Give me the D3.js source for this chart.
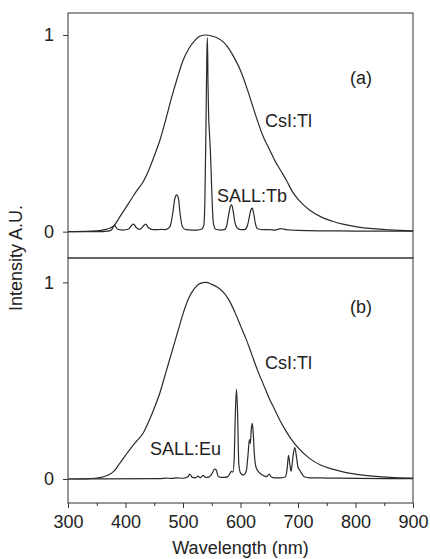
<!DOCTYPE html>
<html>
<head>
<meta charset="utf-8">
<script src="https://cdn.jsdelivr.net/npm/d3@7"></script>
<style>
  body { margin: 0; background: #fff; }
  .graph { fill: none; stroke: #2a2a2a; stroke-width: 1.2px; }
  text { font-family: "Liberation Sans", Arial, sans-serif; fill: #222; }
</style>
</head>
<body>
<div class="container"></div>
<script>
// CsI:Tl emission, panel (a)
var csiNmA  = [300,330,350,360,370,380,390,400,410,420,430,440,450,460,470,480,490,500,510,520,530,540,550,560,570,580,590,600,610,620,630,640,650,660,670,680,690,700,710,720,740,760,780,800,830,860,900];
var csiValA = [0,0.001,0.004,0.008,0.015,0.03,0.075,0.12,0.165,0.21,0.25,0.31,0.385,0.466,0.57,0.68,0.78,0.87,0.93,0.97,0.995,1.0,0.995,0.985,0.965,0.93,0.88,0.82,0.74,0.65,0.56,0.48,0.42,0.36,0.31,0.26,0.205,0.165,0.135,0.11,0.075,0.053,0.037,0.026,0.015,0.009,0.004];

// CsI:Tl emission, panel (b)
var csiNmB  = [300,330,350,360,370,380,390,400,410,420,430,440,450,460,470,480,490,500,510,520,530,540,550,560,570,580,590,600,610,620,630,640,650,660,670,680,690,700,720,740,760,780,800,830,860,900];
var csiValB = [0,0.001,0.005,0.01,0.02,0.04,0.08,0.12,0.16,0.195,0.23,0.29,0.36,0.44,0.54,0.64,0.74,0.84,0.92,0.97,0.995,1.0,0.99,0.975,0.95,0.91,0.85,0.78,0.71,0.63,0.55,0.48,0.41,0.35,0.29,0.24,0.195,0.16,0.105,0.07,0.05,0.035,0.025,0.015,0.008,0.004];

// SALL:Tb emission
var tbNm  = [300,350,370,376,381,386,395,405,410,414,419,425,430,435,440,447,455,462,468,474,478,482,486,489,492,495,499,505,515,525,532,536,538,540,541.5,542.5,543.5,544.5,546,547.5,549,551,553,557,565,572,576,579,582,584,586,588,590,594,600,607,612,615,618,620.5,623,626,630,640,650,660,665,670,675,680,690,700,750,800,900];
var tbVal = [0,0,0.003,0.01,0.032,0.012,0.008,0.012,0.03,0.038,0.02,0.012,0.025,0.038,0.02,0.01,0.01,0.012,0.01,0.016,0.03,0.09,0.17,0.187,0.17,0.09,0.025,0.01,0.008,0.008,0.012,0.03,0.15,0.55,0.9,0.985,0.75,0.6,0.5,0.42,0.3,0.13,0.04,0.012,0.008,0.01,0.03,0.08,0.125,0.138,0.125,0.09,0.05,0.02,0.01,0.01,0.03,0.07,0.11,0.12,0.09,0.04,0.015,0.01,0.01,0.008,0.012,0.015,0.013,0.01,0.008,0.006,0.004,0.003,0.002];

// SALL:Eu emission
var euNm  = [300,460,470,480,490,500,508,512,516,522,526,530,535,539,545,550,555,558,561,566,572,578,582,584.5,587,589,591,593,595,597,600,605,610,613,615.5,617,619,620.5,622,624,627,632,638,645,650,653,660,670,678,681,683.5,686,688,690,692,694.5,697,700,703,707,712,720,750,800,900];
var euVal = [0,0.002,0.005,0.003,0.006,0.004,0.01,0.025,0.008,0.006,0.015,0.006,0.018,0.008,0.01,0.025,0.05,0.045,0.015,0.008,0.008,0.012,0.03,0.04,0.035,0.1,0.33,0.456,0.33,0.08,0.03,0.02,0.04,0.12,0.2,0.18,0.26,0.283,0.24,0.13,0.06,0.035,0.02,0.012,0.025,0.012,0.006,0.006,0.01,0.05,0.12,0.07,0.04,0.08,0.13,0.16,0.12,0.06,0.045,0.025,0.01,0.006,0.005,0.003,0.002];

var xTicks = [300,400,500,600,700,800,900];
var xMinor = [350,450,550,650,750,850];
var yTicks = [0,1];

const WIDTH = 430;
const HEIGHT = 559;
const LEFT = 68, RIGHT = 413;

var svg = d3.select('.container').append('svg')
  .attr('width', WIDTH)
  .attr('height', HEIGHT);

var xScale = d3.scaleLinear().domain([300, 900]).range([LEFT, RIGHT]);
var yA = d3.scaleLinear().domain([-0.134, 1.112]).range([258, 13]);
var yB = d3.scaleLinear().domain([-0.122, 1.124]).range([503, 258]);

var zip = function(xs, ys) {
  return xs.map(function(x, i) { return [x, ys[i]]; });
};

var drawPanel = function(yScale, series) {
  var line = d3.line()
    .x(function(d) { return xScale(d[0]); })
    .y(function(d) { return yScale(d[1]); })
    .curve(d3.curveMonotoneX);

  series.forEach(function(s) {
    svg.append('path')
      .datum(s)
      .classed('graph', true)
      .attr('d', line);
  });

  var yAxis = d3.axisLeft(yScale).tickValues(yTicks).tickFormat(d3.format('d'))
    .tickSize(5).tickPadding(9).tickSizeOuter(0);
  var g = svg.append('g')
    .attr('transform', 'translate(' + LEFT + ',0)')
    .call(yAxis);
  g.select('.domain').remove();
  g.selectAll('line').attr('stroke', '#333');
  g.selectAll('text').style('font-size', '18px').attr('fill', '#222');

  // frame
  svg.append('rect')
    .attr('x', LEFT)
    .attr('y', yScale.range()[1])
    .attr('width', RIGHT - LEFT)
    .attr('height', yScale.range()[0] - yScale.range()[1])
    .attr('fill', 'none')
    .attr('stroke', '#333')
    .attr('stroke-width', 1);
};

drawPanel(yA, [zip(csiNmA, csiValA), zip(tbNm, tbVal)]);
drawPanel(yB, [zip(csiNmB, csiValB), zip(euNm, euVal)]);

// x axis, major ticks with labels
var xAxis = d3.axisBottom(xScale).tickValues(xTicks).tickSize(5).tickPadding(7).tickSizeOuter(0);
var gx = svg.append('g')
  .attr('transform', 'translate(0,503)')
  .call(xAxis);
gx.select('.domain').remove();
gx.selectAll('line').attr('stroke', '#333');
gx.selectAll('text').style('font-size', '18px').attr('fill', '#222');

// minor ticks
var gm = svg.append('g')
  .attr('transform', 'translate(0,503)')
  .call(d3.axisBottom(xScale).tickValues(xMinor).tickSize(3).tickFormat(''));
gm.select('.domain').remove();
gm.selectAll('line').attr('stroke', '#333');

// labels
var label = function(x, y, t) {
  svg.append('text').attr('x', x).attr('y', y).style('font-size', '18px').text(t);
};
label(350, 84, '(a)');
label(265, 127, 'CsI:Tl');
label(217, 202, 'SALL:Tb');
label(350, 313, '(b)');
label(265, 369, 'CsI:Tl');
label(150, 455, 'SALL:Eu');

svg.append('text')
  .attr('x', (LEFT + RIGHT) / 2)
  .attr('y', 554)
  .attr('text-anchor', 'middle')
  .style('font-size', '18px')
  .text('Wavelength (nm)');

svg.append('text')
  .attr('transform', 'translate(22,258) rotate(-90)')
  .attr('text-anchor', 'middle')
  .style('font-size', '18px')
  .text('Intensity A.U.');
</script>
</body>
</html>
